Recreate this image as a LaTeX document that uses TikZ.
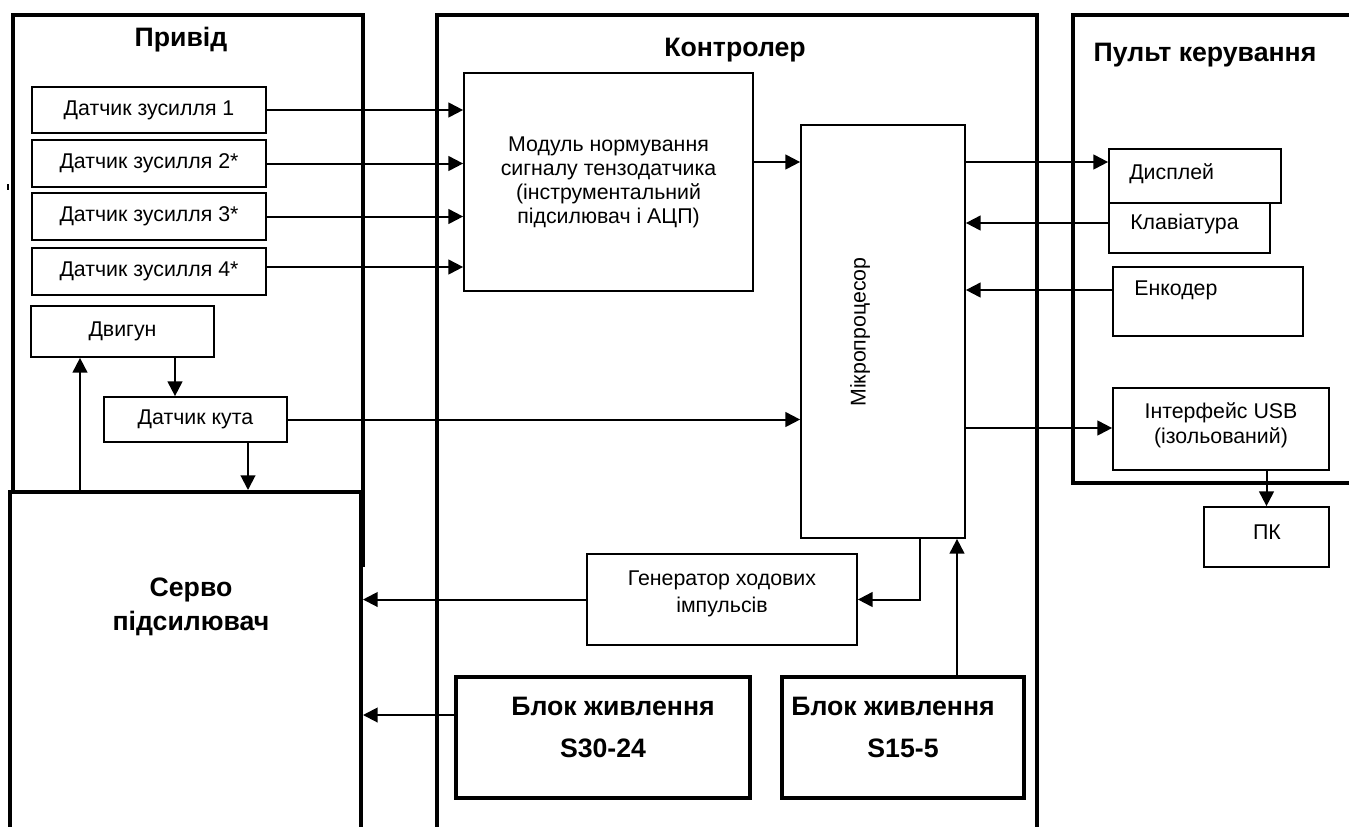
\documentclass[tikz,border=0pt]{standalone}
\usepackage{fontspec}
\setmainfont{Liberation Sans}
\usetikzlibrary{arrows.meta,calc}
\newcommand\bx[7]{\node[#1, minimum width={(#5-#3)*0.75pt}, minimum height={(#6-#4)*0.75pt}] (#2) at ({(#3+#5)/2},{(#4+#6)/2}) {#7};}
\begin{document}
\begin{tikzpicture}[x=0.75pt,y=-0.75pt,
  frame/.style={line width=3pt},
  sbox/.style={draw, rectangle, line width=1.3pt, inner sep=0pt, align=center, font=\fontsize{16}{18}\selectfont},
  fbox/.style={draw, rectangle, line width=3pt, inner sep=0pt},
  pbox/.style={draw, rectangle, line width=2.5pt, inner sep=0pt},
  conn/.style={line width=1.5pt},
  arr/.style={conn, -{Triangle[length=11pt,width=11pt]}},
  txt/.style={inner sep=0pt, align=center, font=\fontsize{16}{19}\selectfont},
  ttl/.style={inner sep=0pt, align=center, font=\fontsize{20}{25}\selectfont\bfseries}]
\useasboundingbox (0,0) rectangle (1349,826);

% frames
\draw[frame] (13,492) -- (13,15) -- (363,15) -- (363,567);
\draw[frame] (437,900) -- (437,15) -- (1037,15) -- (1037,900);
\draw[frame] (1420,15) -- (1073,15) -- (1073,483) -- (1420,483);
\bx{fbox}{servo}{10}{492}{361}{920}{}
\draw[line width=1.2pt] (8,184) -- (8,190);

% titles
\node[ttl] (tprivid) at (181,40) {Привід};
\node[ttl] (tkontr) at (735,50) {Контролер};
\node[ttl] (tpult) at (1205,55) {Пульт керування};
\node[ttl, font=\fontsize{20}{25}\selectfont\bfseries] (tservo) at (191,607) {Серво\\підсилювач};

% drive boxes
\bx{sbox}{d1}{32}{87}{266}{133}{Датчик зусилля 1}
\bx{sbox}{d2}{32}{140}{266}{187}{Датчик зусилля 2*}
\bx{sbox}{d3}{32}{193}{266}{240}{Датчик зусилля 3*}
\bx{sbox}{d4}{32}{248}{266}{295}{Датчик зусилля 4*}
\bx{sbox}{dvig}{31}{306}{214}{357}{Двигун}
\bx{sbox}{kut}{104}{397}{287}{442}{Датчик кута}

% controller boxes
\bx{sbox}{mod}{464}{73}{753}{291}{Модуль нормування\\сигналу тензодатчика\\(інструментальний\\підсилювач і АЦП)}
\bx{sbox}{mic}{801}{125}{965}{538}{}
\node[txt, rotate=90] (tmic) at (860,332) {Мікропроцесор};
\bx{sbox}{gen}{587}{554}{857}{645}{}
\node[txt, font=\fontsize{16}{20}\selectfont] (tgen) at (722,594) {Генератор ходових\\імпульсів};
\bx{pbox}{s30}{456}{677}{750}{798}{}
\bx{pbox}{s15}{782}{677}{1024}{798}{}
\node[ttl, font=\fontsize{20}{31.5}\selectfont\bfseries] (ts30) at (603,727) {\hspace*{15pt}Блок живлення\\S30-24};
\node[ttl, font=\fontsize{20}{31.5}\selectfont\bfseries] (ts15) at (903,727) {Блок живлення\hspace*{15pt}\\S15-5};

% console boxes
\bx{sbox}{klav}{1109}{203}{1270}{253}{}
\bx{sbox}{disp}{1109}{149}{1281}{203}{}
\bx{sbox}{enc}{1113}{267}{1303}{336}{}
\bx{sbox}{usb}{1113}{388}{1329}{470}{}
\bx{sbox}{pk}{1204}{507}{1329}{567}{}
\node[txt, anchor=west] (tdisp) at (1129,174) {Дисплей};
\node[txt, anchor=west] (tklav) at (1130,224) {Клавіатура};
\node[txt, anchor=west] (tenc) at (1134,290) {Енкодер};
\node[txt] (tusb) at (1221,425) {Інтерфейс USB\\(ізольований)};
\node[txt] (tpk) at (1267,532) {ПК};

% connectors
\draw[arr] (d1.east) -- (d1.east -| mod.west);
\draw[arr] (d2.east) -- (d2.east -| mod.west);
\draw[arr] (d3.east) -- (d3.east -| mod.west);
\draw[arr] (d4.east |- 0,267) -- (mod.west |- 0,267);
\draw[arr] (mod.east |- 0,162) -- (mic.west |- 0,162);
\draw[arr] (kut.east) -- (kut.east -| mic.west);
\draw[arr] (mic.east |- 0,162) -- (disp.west |- 0,162);
\draw[arr] (klav.west |- 0,223) -- (mic.east |- 0,223);
\draw[arr] (enc.west |- 0,290) -- (mic.east |- 0,290);
\draw[arr] (mic.east |- 0,428) -- (usb.west |- 0,428);
\draw[arr] (pk.north |- usb.south) -- (pk.north);
\draw[arr] (servo.north -| 80,0) -- (dvig.south -| 80,0);
\draw[arr] (dvig.south -| 175,0) -- (kut.north -| 175,0);
\draw[arr] (kut.south -| 248,0) -- (servo.north -| 248,0);
\draw[arr] (mic.south -| 920,0) |- (gen.east);
\draw[arr] (s15.north -| 957,0) -- (mic.south -| 957,0);
\draw[arr] (gen.west) -- (gen.west -| servo.east);
\draw[arr] (s30.west |- 0,715) -- (servo.east |- 0,715);
\end{tikzpicture}
\end{document}
